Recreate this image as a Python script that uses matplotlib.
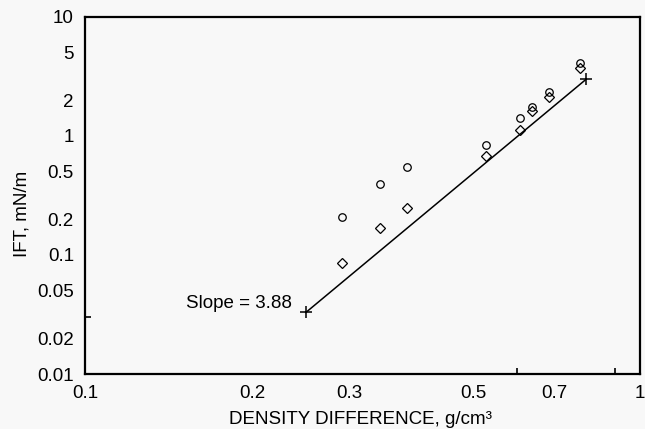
import matplotlib
matplotlib.use('Agg')
import matplotlib.pyplot as plt
from matplotlib.ticker import FixedLocator, NullFormatter
import numpy as np

# measured IFT against density difference
dens_circ = [0.290, 0.340, 0.380, 0.527, 0.608, 0.638, 0.687, 0.780]
ift_circ = [0.210, 0.393, 0.549, 0.845, 1.41, 1.76, 2.36, 4.13]
dens_diam = [0.290, 0.340, 0.380, 0.527, 0.608, 0.638, 0.687, 0.780]
ift_diam = [0.0851, 0.168, 0.250, 0.679, 1.12, 1.62, 2.14, 3.75]

# correlation line, end points
slope = 3.88
fit_x = [0.25, 0.80]
fit_y_end = 3.0

xlabels = [0.1, 0.2, 0.3, 0.5, 0.7, 1]
xlabel_txt = ['0.1', '0.2', '0.3', '0.5', '0.7', '1']
ylabels = [0.01, 0.02, 0.05, 0.1, 0.2, 0.5, 1, 2, 5, 10]
ylabel_txt = ['0.01', '0.02', '0.05', '0.1', '0.2', '0.5', '1', '2', '5', '10']
xminor = [0.2, 0.3, 0.5, 0.6, 0.7, 0.9]
yminor = [0.03]

plt.rcParams['font.family'] = ['Liberation Sans', 'DejaVu Sans']
bg = '#f8f8f8'
fs = 13.5

fig = plt.figure(figsize=(6.45, 4.29), dpi=100, facecolor=bg)
ax = fig.add_axes([0.1318, 0.1282, 0.8604, 0.8322], facecolor=bg)

fit_y = [fit_y_end * (fit_x[0] / fit_x[1]) ** slope, fit_y_end]
ax.plot(fit_x, fit_y, color='black', lw=1.1, marker='+', ms=9, mew=1.1)

ax.plot(dens_circ, ift_circ, ls='none', marker='o', ms=5.4,
        mfc='none', mec='black', mew=0.9)
ax.plot(dens_diam, ift_diam, ls='none', marker='D', ms=5.6,
        mfc='none', mec='black', mew=0.9)

ax.text(0.236, 0.0395, 'Slope = 3.88', fontsize=fs, ha='right', va='center')

ax.set_xscale('log')
ax.set_yscale('log')
ax.set_xlim(0.1, 1)
ax.set_ylim(0.01, 10)

ax.xaxis.set_major_locator(FixedLocator(xlabels))
ax.set_xticklabels(xlabel_txt)
ax.yaxis.set_major_locator(FixedLocator(ylabels))
ax.set_yticklabels(ylabel_txt)
ax.xaxis.set_minor_locator(FixedLocator(xminor))
ax.yaxis.set_minor_locator(FixedLocator(yminor))
ax.xaxis.set_minor_formatter(NullFormatter())
ax.yaxis.set_minor_formatter(NullFormatter())

ax.tick_params(which='major', length=0, labelsize=fs, pad=8)
ax.tick_params(which='minor', direction='in', length=4, width=1.2)

for sp in ax.spines.values():
    sp.set_linewidth(1.6)

ax.set_xlabel('DENSITY DIFFERENCE, g/cm³', fontsize=fs)
ax.set_ylabel('IFT, mN/m', fontsize=fs)
ax.xaxis.set_label_coords(0.497, -0.105)
ax.yaxis.set_label_coords(-0.099, 0.448)

fig.savefig('out.png', dpi=100, facecolor=bg)
